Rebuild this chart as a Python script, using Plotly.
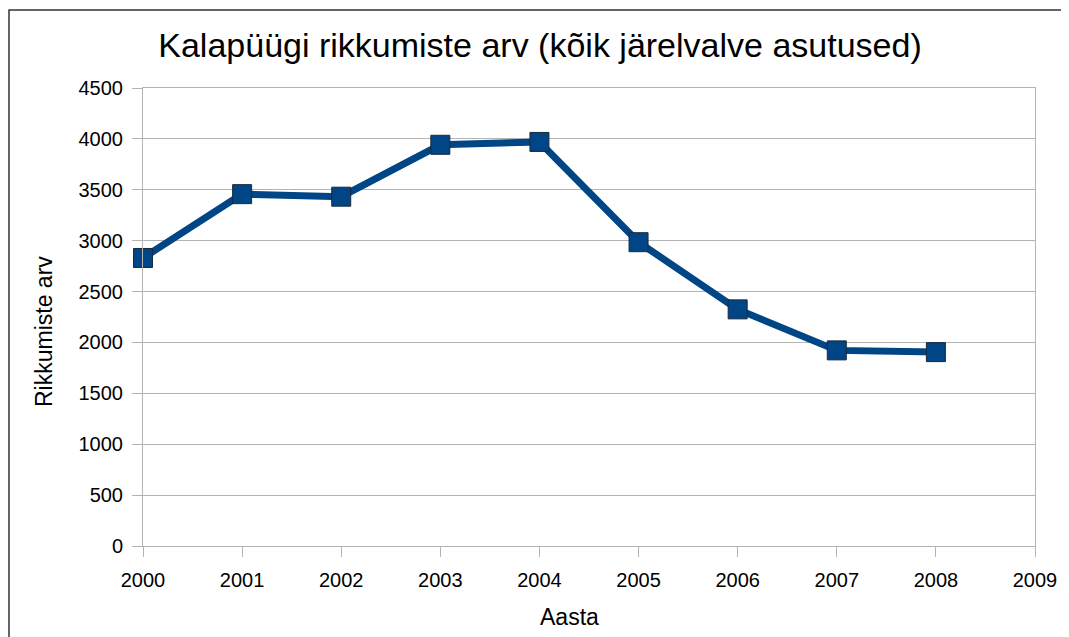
import plotly.graph_objects as go

years = [2000, 2001, 2002, 2003, 2004, 2005, 2006, 2007, 2008]
violations = [2830, 3457, 3432, 3942, 3970, 2985, 2325, 1922, 1905]
x_ticks = [2000, 2001, 2002, 2003, 2004, 2005, 2006, 2007, 2008, 2009]
y_ticks = [0, 500, 1000, 1500, 2000, 2500, 3000, 3500, 4000, 4500]

title_text = "Kalapüügi rikkumiste arv (kõik järelvalve asutused)"
x_title = "Aasta"
y_title = "Rikkumiste arv"

FONT = "Liberation Sans, Arial, sans-serif"
BLUE = "#004586"
GRID = "#b3b3b3"

# page body has an 8px margin, so the figure is shifted by OFF
OFF = 8
L, T, PW, PH = 143 - OFF, 88 - OFF, 892, 458
W, H = 1069, 637

fig = go.Figure()
fig.add_trace(go.Scatter(
    x=years, y=violations, mode="lines+markers",
    line=dict(color=BLUE, width=7),
    marker=dict(symbol="square", size=19, color=BLUE,
                line=dict(color="#1a2a3a", width=1)),
    cliponaxis=False,
    showlegend=False, hoverinfo="x+y",
))

fig.update_layout(
    width=W, height=H,
    margin=dict(l=L, r=W - L - PW, t=T, b=H - T - PH),
    paper_bgcolor="white", plot_bgcolor="white",
    font=dict(family=FONT, color="#000000"),
    title=dict(text=title_text, x=(540 - OFF) / W, xanchor="center",
               y=1 - (45 - OFF) / H, yanchor="middle",
               font=dict(size=34, family=FONT, color="#000000")),
)

fig.update_xaxes(
    range=[2000, 2009], tickmode="array", tickvals=x_ticks,
    showgrid=False, zeroline=False,
    showline=True, linecolor=GRID, linewidth=1, mirror=True,
    ticks="outside", ticklen=10, tickcolor=GRID, tickwidth=1,
    ticklabelstandoff=6,
    tickfont=dict(size=20, family=FONT, color="#000000"),
)
fig.update_yaxes(
    range=[0, 4500], tickmode="array", tickvals=y_ticks,
    showgrid=True, gridcolor=GRID, gridwidth=1, zeroline=False,
    showline=True, linecolor=GRID, linewidth=1, mirror=True,
    ticks="outside", ticklen=10, tickcolor=GRID, tickwidth=1,
    ticklabelstandoff=5,
    tickfont=dict(size=20, family=FONT, color="#000000"),
)

def px_x(px):
    return (px - 143) / PW

def px_y(py):
    return (546 - py) / PH

# axis titles as annotations
fig.add_annotation(text=x_title, xref="paper", yref="paper",
                   x=px_x(569), y=px_y(617),
                   xanchor="center", yanchor="middle", showarrow=False,
                   font=dict(size=23, family=FONT, color="#000000"))
fig.add_annotation(text=y_title, xref="paper", yref="paper",
                   x=px_x(44), y=px_y(332),
                   xanchor="center", yanchor="middle", showarrow=False,
                   textangle=-90,
                   font=dict(size=23, family=FONT, color="#000000"))

# outer frame around the chart
fig.add_shape(type="rect", xref="paper", yref="paper",
              x0=px_x(9), x1=px_x(1068),
              y0=px_y(660), y1=px_y(10),
              line=dict(color="#333333", width=1.5), layer="below")

fig.write_html("out.html")
